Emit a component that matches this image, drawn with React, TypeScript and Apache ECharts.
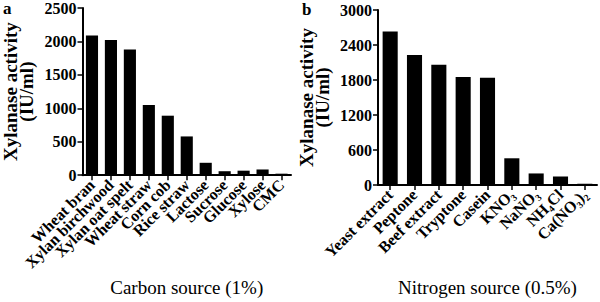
import React, { useEffect, useRef } from "react";
import * as echarts from "echarts";

const carbonSources = [
  "Wheat bran",
  "Xylan birchwood",
  "Xylan oat spelt",
  "Wheat straw",
  "Corn cob",
  "Rice straw",
  "Lactose",
  "Sucrose",
  "Glucose",
  "Xylose",
  "CMC",
];
const carbonActivity = [2090, 2020, 1880, 1050, 890, 580, 186, 60, 68, 86, 23];

const nitrogenSources = [
  "Yeast extract",
  "Peptone",
  "Beef extract",
  "Tryptone",
  "Casein",
  "KNO₃",
  "NaNO₃",
  "NH₄Cl",
  "Ca(NO₃)₂",
];
const nitrogenActivity = [2630, 2230, 2060, 1850, 1840, 458, 198, 145, 23];

const leftYMax = 2500;
const leftYInterval = 500;
const rightYMax = 3000;
const rightYInterval = 600;

const yName = "Xylanase activity\n(IU/ml)";
const leftXName = "Carbon source (1%)";
const rightXName = "Nitrogen source (0.5%)";

const FONT = "'Liberation Serif', 'Times New Roman', serif";

export default function App() {
  const ref = useRef<HTMLDivElement>(null);

  useEffect(() => {
    if (!ref.current) return;
    const chart = echarts.init(ref.current, undefined, { renderer: "svg" });

    const axisLine = { show: true, lineStyle: { color: "#000", width: 2 } };
    const axisTick = { show: true, length: 5, lineStyle: { color: "#000", width: 1.5 } };

    const yAxisBase = (gridIndex: number, max: number, interval: number, gap: number) => ({
      type: "value" as const,
      gridIndex,
      min: 0,
      max,
      interval,
      axisLine,
      axisTick: { ...axisTick, inside: false },
      splitLine: { show: false },
      axisLabel: {
        color: "#000",
        fontFamily: FONT,
        fontWeight: "bold" as const,
        fontSize: 16,
        margin: 6,
        formatter: (v: number) => String(v),
      },
      name: yName,
      nameLocation: "middle" as const,
      nameRotate: 90,
      nameGap: gap,
      nameTextStyle: {
        color: "#000",
        fontFamily: FONT,
        fontWeight: "bold" as const,
        fontSize: 19,
        lineHeight: 16,
      },
    });

    const xAxisBase = (gridIndex: number, data: string[], name: string, gap: number) => ({
      type: "category" as const,
      gridIndex,
      data,
      axisLine,
      axisTick: { ...axisTick, alignWithLabel: true },
      axisLabel: {
        color: "#000",
        fontFamily: FONT,
        fontWeight: "bold" as const,
        fontSize: 16,
        rotate: 45,
        margin: 7,
        interval: 0,
      },
      name,
      nameLocation: "middle" as const,
      nameGap: gap,
      nameTextStyle: {
        color: "#000",
        fontFamily: FONT,
        fontSize: 19,
      },
    });

    chart.setOption({
      animation: false,
      backgroundColor: "#fff",
      grid: [
        { left: 81, top: 6, width: 210, height: 183 },
        { left: 378, top: 10, width: 219, height: 177 },
      ],
      xAxis: [
        xAxisBase(0, carbonSources, leftXName, 91),
        xAxisBase(1, nitrogenSources, rightXName, 93),
      ],
      yAxis: [
        yAxisBase(0, leftYMax, leftYInterval, 48),
        yAxisBase(1, rightYMax, rightYInterval, 48),
      ],
      series: [
        {
          type: "bar",
          xAxisIndex: 0,
          yAxisIndex: 0,
          data: carbonActivity,
          barWidth: "64%",
          itemStyle: { color: "#000" },
        },
        {
          type: "bar",
          xAxisIndex: 1,
          yAxisIndex: 1,
          data: nitrogenActivity,
          barWidth: "62%",
          itemStyle: { color: "#000" },
        },
      ],
      graphic: [
        {
          type: "text",
          left: 3,
          top: 0,
          style: { text: "a", fill: "#000", font: `bold 17px ${FONT}` },
        },
        {
          type: "text",
          left: 302,
          top: 1,
          style: { text: "b", fill: "#000", font: `bold 17px ${FONT}` },
        },
      ],
    });

    return () => chart.dispose();
  }, []);

  return (
    <div
      ref={ref}
      style={{ position: "fixed", left: 0, top: 0, width: 600, height: 302, background: "#fff" }}
    />
  );
}
